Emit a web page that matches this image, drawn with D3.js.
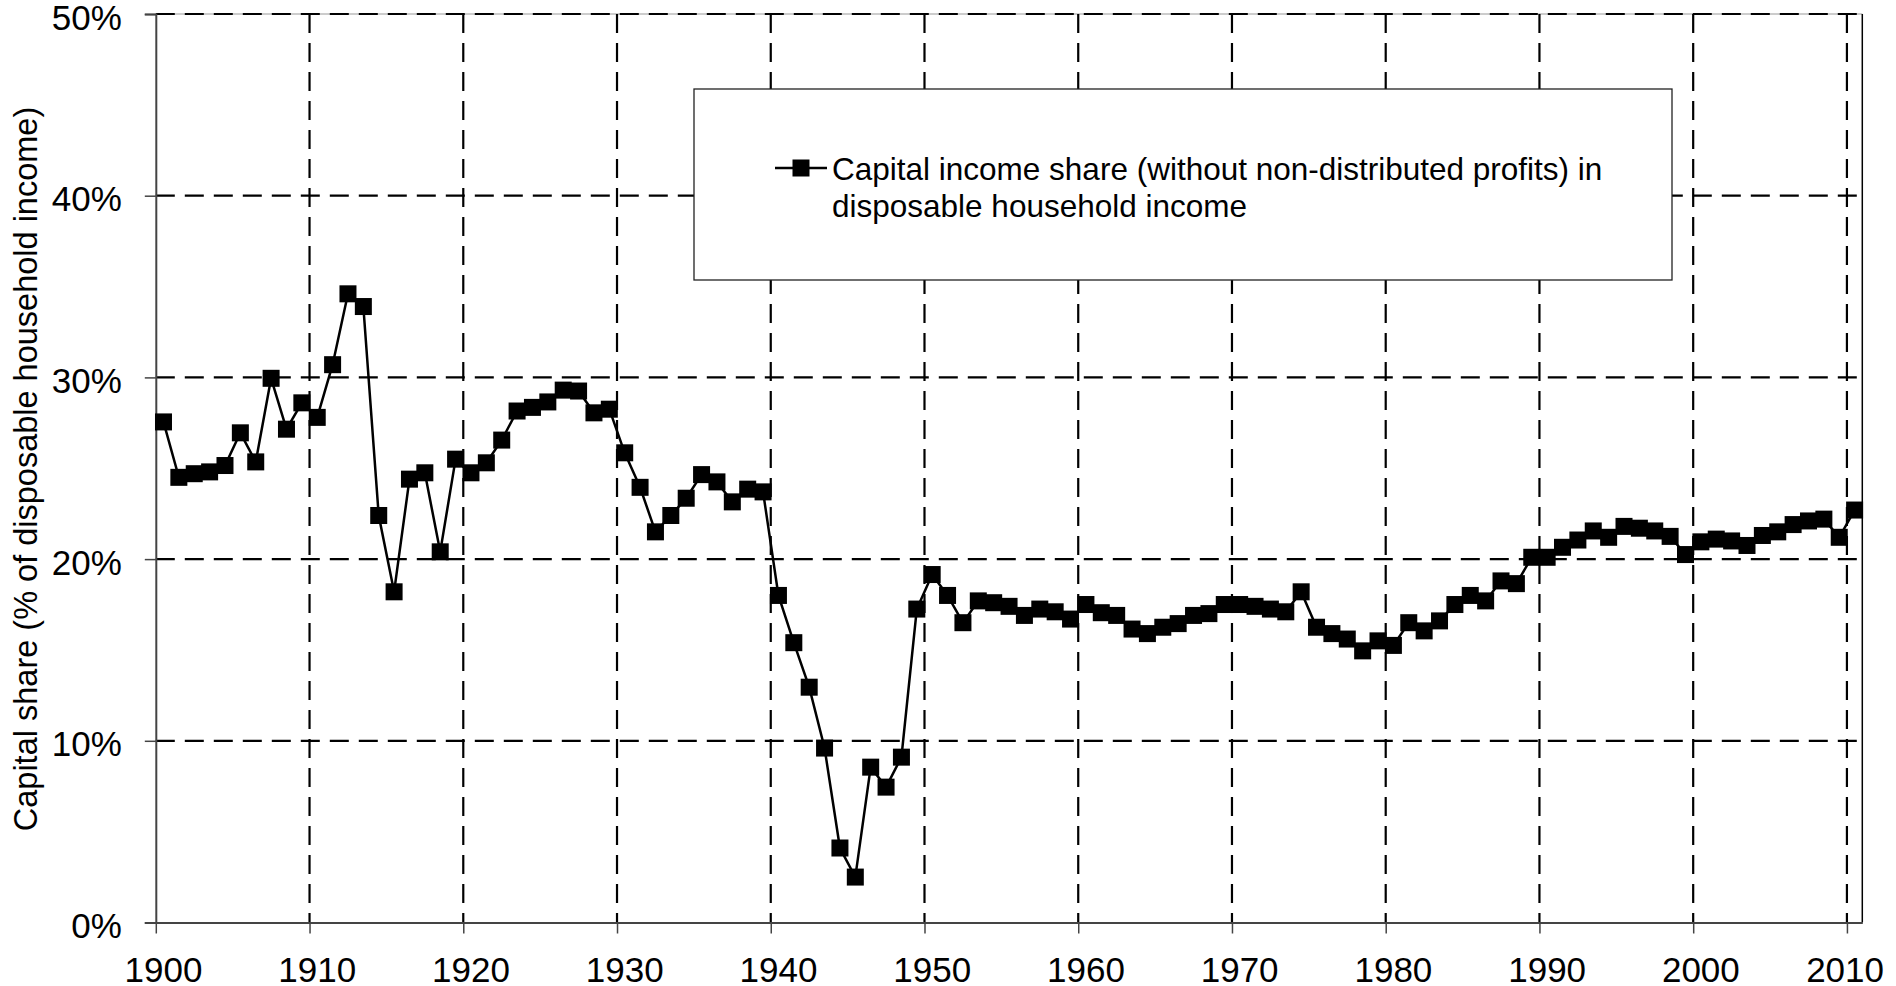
<!DOCTYPE html>
<html>
<head>
<meta charset="utf-8">
<script src="https://cdn.jsdelivr.net/npm/d3@7"></script>
<style>
  html, body { margin: 0; padding: 0; background: #fff; }
  svg { display: block; font-family: "Liberation Sans", Arial, sans-serif; }
</style>
</head>
<body>
<svg id="chart" width="1896" height="986"></svg>
<script>
// ---- Data ----
const years = d3.range(1900, 2011); // categories 1900..2010
const capitalShare = [
  27.55, 24.5, 24.7, 24.8, 25.15, 26.95, 25.35, 29.95, 27.15, 28.6,
  27.8, 30.7, 34.6, 33.9, 22.4, 18.2, 24.4, 24.75, 20.4, 25.5,
  24.75, 25.3, 26.55, 28.15, 28.35, 28.65, 29.3, 29.25, 28.05, 28.25,
  25.85, 23.95, 21.5, 22.4, 23.35, 24.65, 24.25, 23.15, 23.85, 23.7,
  18.0, 15.4, 12.95, 9.6, 4.1, 2.5, 8.55, 7.45, 9.1, 17.25,
  19.15, 18.0, 16.5, 17.7, 17.6, 17.4, 16.9, 17.25, 17.1, 16.7,
  17.5, 17.05, 16.9, 16.15, 15.9, 16.25, 16.45, 16.9, 17.0, 17.5,
  17.5, 17.4, 17.25, 17.1, 18.2, 16.25, 15.9, 15.6, 14.95, 15.5,
  15.25, 16.5, 16.05, 16.6, 17.5, 18.0, 17.7, 18.8, 18.65, 20.1,
  20.1, 20.65, 21.05, 21.55, 21.2, 21.8, 21.7, 21.55, 21.25, 20.25,
  20.95, 21.1, 21.0, 20.75, 21.3, 21.5, 21.9, 22.1, 22.2, 21.2,
  22.7
];
const xTickYears = [1900, 1910, 1920, 1930, 1940, 1950, 1960, 1970, 1980, 1990, 2000, 2010];
const yTicks = [0, 10, 20, 30, 40, 50];
const seriesName = ["Capital income share (without non-distributed profits) in", "disposable household income"];
const yTitle = "Capital share (% of disposable household income)";

(function () {
// ---- Layout ----
const svg = d3.select("#chart");
const pLeft = 155.8, pRight = 1862.3, pTop = 14, pBottom = 922.5;

const xBand = d3.scaleBand().domain(years).range([pLeft, pRight]).padding(0);
const xEdge = d3.scaleLinear().domain([1900, 2011]).range([pLeft, pRight]);
const y = d3.scaleLinear().domain([0, 50]).range([pBottom, pTop]);

// Top border (light)
svg.append("line").attr("x1", pLeft).attr("x2", pRight).attr("y1", pTop).attr("y2", pTop)
  .attr("stroke", "#999").attr("stroke-width", 1);

// Gridlines (dashed)
const grid = svg.append("g");
grid.selectAll("line.h").data(yTicks.filter(d => d > 0)).enter().append("line")
  .attr("x1", pLeft).attr("x2", pRight)
  .attr("y1", d => y(d)).attr("y2", d => y(d))
  .attr("stroke", "#000").attr("stroke-width", 2.2).attr("stroke-dasharray", "19,10");
grid.selectAll("line.v").data(xTickYears.filter(d => d > 1900)).enter().append("line")
  .attr("x1", d => xEdge(d)).attr("x2", d => xEdge(d))
  .attr("y1", pTop).attr("y2", pBottom)
  .attr("stroke", "#000").attr("stroke-width", 2.2).attr("stroke-dasharray", "19,10");

// Right border
svg.append("line").attr("x1", pRight).attr("x2", pRight).attr("y1", pTop).attr("y2", pBottom)
  .attr("stroke", "#000").attr("stroke-width", 1.5);

// Y axis
const yAxis = d3.axisLeft(y).tickValues(yTicks).tickFormat(d => d + "%").tickSize(11).tickPadding(23);
const gy = svg.append("g").attr("transform", `translate(${pLeft},0)`).call(yAxis);
gy.select(".domain").attr("stroke", "#444").attr("stroke-width", 2);
gy.selectAll(".tick line").attr("stroke", "#444").attr("stroke-width", 1.5);
gy.selectAll(".tick text").attr("font-size", 35).attr("fill", "#000")
  .attr("font-family", "Liberation Sans, Arial, sans-serif").attr("dy", "0.43em");

// X axis: tick marks at category edges
const xAxisTicks = d3.axisBottom(xEdge).tickValues(xTickYears).tickFormat("").tickSize(11).tickSizeOuter(0);
const gx = svg.append("g").attr("transform", `translate(0,${pBottom})`).call(xAxisTicks);
gx.select(".domain").attr("stroke", "#444").attr("stroke-width", 2);
gx.selectAll(".tick line").attr("stroke", "#444").attr("stroke-width", 1.5);

// X axis labels at category centres (last one kept inside the chart area)
const xAxisLabels = d3.axisBottom(xBand).tickValues(xTickYears).tickSize(0).tickPadding(0);
const gxl = svg.append("g").attr("transform", `translate(0,${pBottom})`).call(xAxisLabels);
gxl.select(".domain").remove();
gxl.selectAll(".tick text").attr("font-size", 35).attr("fill", "#000")
  .attr("font-family", "Liberation Sans, Arial, sans-serif").attr("dy", null).attr("y", 59);
const maxRight = 1884;
gxl.selectAll(".tick").each(function () {
  const t = d3.select(this);
  const bb = this.getBBox();
  const m = /translate\(([-\d.]+)/.exec(t.attr("transform"));
  const tx = m ? +m[1] : 0;
  const r = tx + bb.x + bb.width;
  if (r > maxRight) t.select("text").attr("x", -(r - maxRight));
});

// Y title
svg.append("text")
  .attr("transform", `translate(37,469) rotate(-90)`)
  .attr("text-anchor", "middle")
  .attr("font-size", 32.5).attr("fill", "#000")
  .text(yTitle);

// Series line
const cx = (d, i) => xBand(years[i]) + xBand.bandwidth() / 2;
const line = d3.line().x((d, i) => cx(d, i)).y(d => y(d));
svg.append("path").datum(capitalShare)
  .attr("d", line).attr("fill", "none").attr("stroke", "#000").attr("stroke-width", 2.5);

const ms = 17;
svg.append("g").selectAll("rect").data(capitalShare).enter().append("rect")
  .attr("x", (d, i) => cx(d, i) - ms / 2).attr("y", d => y(d) - ms / 2)
  .attr("width", ms).attr("height", ms).attr("fill", "#000");

// Legend
const lg = svg.append("g");
lg.append("rect").attr("x", 694).attr("y", 89).attr("width", 978).attr("height", 191)
  .attr("fill", "#fff").attr("stroke", "#222").attr("stroke-width", 1.3);
lg.append("line").attr("x1", 775).attr("x2", 827).attr("y1", 168).attr("y2", 168)
  .attr("stroke", "#000").attr("stroke-width", 2.5);
lg.append("rect").attr("x", 801 - 8.5).attr("y", 168 - 8.5).attr("width", 17).attr("height", 17).attr("fill", "#000");
lg.append("text").attr("x", 832).attr("y", 180).attr("font-size", 31.5).attr("fill", "#000").text(seriesName[0]);
lg.append("text").attr("x", 832).attr("y", 217).attr("font-size", 31.5).attr("fill", "#000").text(seriesName[1]);
})();
</script>
</body>
</html>
